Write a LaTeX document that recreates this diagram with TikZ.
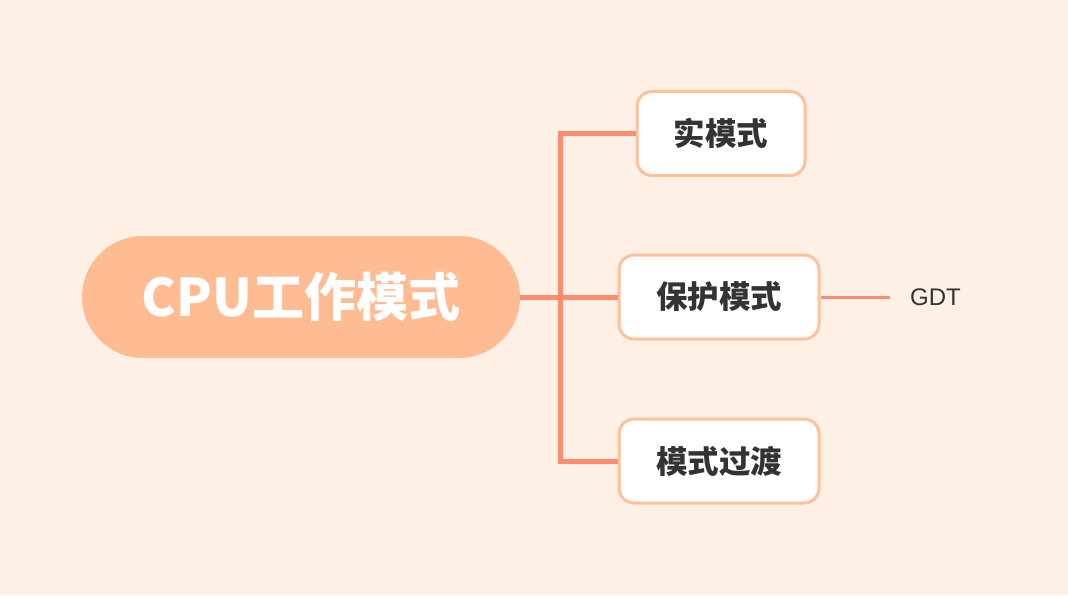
\documentclass[tikz,border=0pt]{standalone}
\usepackage{fontspec}
\setmainfont{Noto Sans CJK SC}
\newfontfamily\latinf{Liberation Sans}
\definecolor{bg}{HTML}{FFF0E5}
\definecolor{rootc}{HTML}{FFBB92}
\definecolor{edge}{HTML}{FF8C6E}
\definecolor{bord}{HTML}{FFC09A}
\definecolor{txt}{HTML}{333333}
\begin{document}
\begin{tikzpicture}[x=1pt,y=-1pt,
  child/.style={draw=bord,line width=3pt,fill=white,rounded corners=15pt,minimum height=84pt,text=txt,font=\fontsize{31.5}{33}\selectfont\bfseries,inner sep=0pt},
  conn/.style={draw=edge,line width=5pt}]
\fill[bg] (0,0) rectangle (1068,595);
\node[fill=rootc,rounded corners=61pt,minimum width=438pt,minimum height=122pt,text=white,font=\fontsize{52}{54}\selectfont\bfseries,inner sep=0pt] (root) at (301,297) {CPU工作模式};
\node[child,minimum width=168pt] (a) at (721,133.5) {实模式};
\node[child,minimum width=200pt] (b) at (719,297) {保护模式};
\node[child,minimum width=200pt] (c) at (719,461) {模式过渡};
\coordinate (j) at (560,297);
\coordinate (g) at (890,297);
\node[text=txt,font=\latinf\fontsize{24}{26}\selectfont,anchor=west,inner sep=0pt] (gdt) at (910,297) {GDT};
\draw[conn] (root.east) -- (j);
\draw[conn] (j) -- (b.west);
\draw[conn] (j) |- (a.west);
\draw[conn] (j) |- (c.west);
\draw[draw=edge,line width=3pt] (b.east) -- (g);
\end{tikzpicture}
\end{document}
